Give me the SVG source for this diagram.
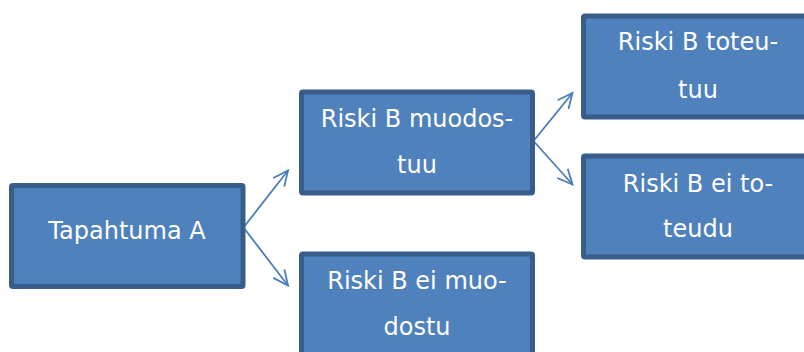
<svg xmlns="http://www.w3.org/2000/svg" width="804" height="352" viewBox="0 0 804 352">
  <style>
    .box { fill: #4f81bd; stroke: #385d8a; stroke-width: 5; }
    .lbl { font-family: "DejaVu Sans", Verdana, sans-serif; font-size: 24px; fill: #ffffff; text-anchor: middle; }
    .conn { fill: none; stroke: #4a7ebb; stroke-width: 1.8; marker-end: url(#arrow); }
  </style>
  <defs>
    <marker id="arrow" viewBox="-18 -10 20 20" refX="0" refY="0" markerWidth="20" markerHeight="20" markerUnits="userSpaceOnUse" orient="auto">
      <path d="M-15,-7 L0,0 L-15,7" fill="none" stroke="#4a7ebb" stroke-width="1.8" stroke-linejoin="miter"/>
    </marker>
  </defs>
  <rect width="804" height="352" fill="#ffffff"/>

  <g id="connectors">
    <path class="conn" d="M243.5,227.5 L288,170.5"/>
    <path class="conn" d="M243.5,227.5 L288,285.5"/>
    <path class="conn" d="M533.5,141 L572.5,93"/>
    <path class="conn" d="M533.5,141 L572.5,184.5"/>
  </g>

  <g id="tapahtuma-a">
    <rect class="box" x="11.5" y="185.5" width="231.5" height="101" rx="1.5"/>
    <text class="lbl" x="127" y="238.5">Tapahtuma A</text>
  </g>

  <g id="riski-b-muodostuu">
    <rect class="box" x="301.5" y="92" width="231" height="101" rx="1.5"/>
    <text class="lbl" x="417" y="126.7">Riski B muodos-</text>
    <text class="lbl" x="417" y="172.7">tuu</text>
  </g>

  <g id="riski-b-ei-muodostu">
    <rect class="box" x="301.5" y="254" width="231" height="101" rx="1.5"/>
    <text class="lbl" x="417" y="289.3">Riski B ei muo-</text>
    <text class="lbl" x="417" y="335">dostu</text>
  </g>

  <g id="riski-b-toteutuu">
    <rect class="box" x="583.5" y="16" width="231" height="101" rx="1.5"/>
    <text class="lbl" x="698" y="50">Riski B toteu-</text>
    <text class="lbl" x="698" y="97.7">tuu</text>
  </g>

  <g id="riski-b-ei-toteudu">
    <rect class="box" x="583.5" y="156" width="231" height="101" rx="1.5"/>
    <text class="lbl" x="698" y="191.7">Riski B ei to-</text>
    <text class="lbl" x="698" y="237.3">teudu</text>
  </g>
</svg>
